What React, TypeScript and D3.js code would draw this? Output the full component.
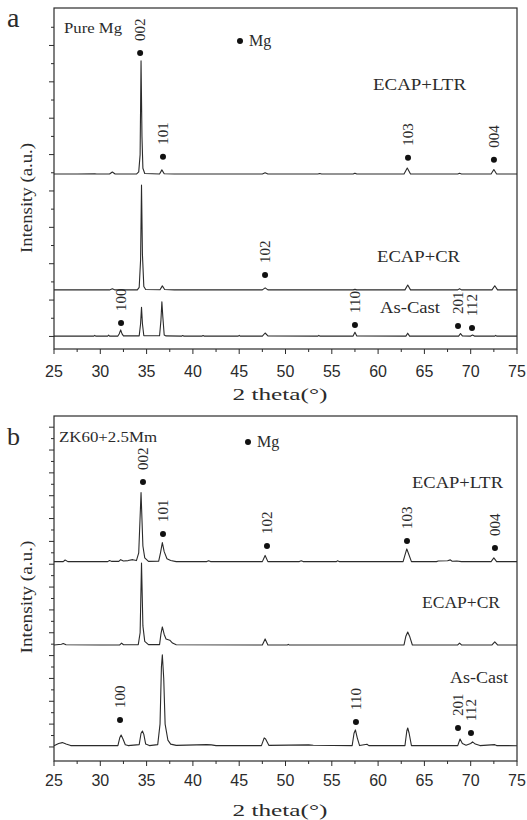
import React from 'react';
import * as d3 from 'd3';

type Pt = [number, number];

// ---------- data (2theta in degrees, intensity in a.u.) ----------
const xTickValues = [25, 30, 35, 40, 45, 50, 55, 60, 65, 70, 75];
const seriesNames = ['ECAP+LTR', 'ECAP+CR', 'As-Cast'];

// Panel a: Pure Mg
const pureLTR: Pt[] = [
  [25, 893], [27.5, 893], [29.4, 895], [29.6, 893], [31.0, 893], [31.3, 904], [31.6, 893],
  [33.9, 893], [34.15, 905], [34.3, 1000], [34.4, 1515], [34.5, 1100], [34.6, 925], [34.8, 896],
  [36.4, 893], [36.65, 916], [36.9, 895], [38, 893], [47.5, 893], [47.8, 900], [48.1, 893],
  [53.5, 893], [53.7, 896], [53.9, 893], [57.3, 893], [57.5, 898], [57.7, 893],
  [62.8, 893], [63.15, 926], [63.5, 893], [68.6, 893], [68.8, 897], [69.0, 893],
  [72.2, 893], [72.5, 918], [72.8, 893], [75, 893],
];
const pureCR: Pt[] = [
  [25, 256], [31.0, 256], [31.3, 262], [31.6, 256], [34.0, 256], [34.2, 270], [34.35, 420],
  [34.45, 832], [34.55, 450], [34.7, 275], [34.9, 258], [36.45, 257], [36.7, 278], [36.95, 258],
  [38, 256], [47.5, 256], [47.8, 267], [48.1, 256], [57.3, 256], [57.5, 259], [57.7, 256],
  [62.9, 256], [63.2, 283], [63.5, 256], [68.6, 256], [68.8, 262], [69.0, 256],
  [72.3, 256], [72.6, 279], [72.9, 256], [75, 256],
];
const pureCast: Pt[] = [
  [25, 2], [29.3, 2], [29.4, 6], [29.5, 2], [30.8, 2], [30.9, 7], [31.0, 2], [31.9, 2],
  [32.05, 15], [32.2, 36], [32.35, 14], [32.5, 3], [34.2, 3], [34.35, 70], [34.45, 160],
  [34.55, 70], [34.7, 4], [36.4, 4], [36.55, 90], [36.65, 191], [36.75, 110], [36.9, 8],
  [37.1, 3], [38.8, 2], [38.9, 5], [39.0, 2], [41.0, 2], [41.1, 5], [41.2, 2], [44.9, 2],
  [45.0, 6], [45.1, 2], [47.5, 2], [47.8, 19], [48.1, 3], [53.5, 2], [53.6, 6], [53.7, 2],
  [57.3, 2], [57.5, 23], [57.7, 3], [63.0, 2], [63.2, 18], [63.4, 2], [68.7, 2], [68.9, 16],
  [69.1, 3], [70.0, 2], [70.2, 8], [70.4, 2], [72.6, 2], [72.7, 6], [72.8, 2], [75, 2],
];
const pureLabels = [
  { hkl: '002', theta: 34.3, y: 1559 },
  { hkl: '101', theta: 36.77, y: 988 },
  { hkl: '103', theta: 63.23, y: 983 },
  { hkl: '004', theta: 72.51, y: 972 },
  { hkl: '102', theta: 47.79, y: 338 },
  { hkl: '100', theta: 32.24, y: 74 },
  { hkl: '110', theta: 57.5, y: 63 },
  { hkl: '201', theta: 68.63, y: 58 },
  { hkl: '112', theta: 70.14, y: 47 },
];

// Panel b: ZK60+2.5Mm
const zkLTR: Pt[] = [
  [25, 1623], [26.0, 1623], [26.2, 1637], [26.5, 1623], [30.8, 1623], [31.0, 1633], [31.2, 1625],
  [32.0, 1625], [32.2, 1640], [32.5, 1628], [33.0, 1632], [33.5, 1640], [33.9, 1632],
  [34.15, 1700], [34.4, 2227], [34.6, 1760], [34.8, 1655], [35.2, 1625], [36.3, 1626],
  [36.5, 1700], [36.7, 1789], [36.9, 1710], [37.2, 1648], [37.6, 1633], [38.2, 1623],
  [41.5, 1623], [41.7, 1631], [41.9, 1623], [47.5, 1623], [47.8, 1677], [48.1, 1623],
  [51.5, 1623], [51.7, 1630], [51.9, 1623], [55.5, 1623], [55.6, 1630], [55.8, 1623],
  [62.7, 1623], [62.9, 1680], [63.1, 1734], [63.3, 1690], [63.6, 1623], [66.3, 1623],
  [66.5, 1628], [67.5, 1630], [67.8, 1638], [68.0, 1626], [68.5, 1628], [69.0, 1623],
  [72.2, 1623], [72.5, 1655], [72.8, 1623], [75, 1623],
];
const zkCR: Pt[] = [
  [25, 893], [25.8, 900], [26.0, 906], [26.3, 895], [30, 893], [32.1, 893], [32.3, 910],
  [32.5, 895], [34.1, 896], [34.3, 1000], [34.45, 1611], [34.6, 1060], [34.8, 925],
  [35.2, 896], [36.4, 896], [36.55, 990], [36.7, 1051], [36.9, 985], [37.1, 945], [37.5, 935],
  [37.8, 910], [38.2, 895], [47.5, 893], [47.8, 946], [48.1, 893], [50.2, 893], [50.3, 898],
  [50.4, 893], [62.8, 893], [63.0, 970], [63.2, 1007], [63.4, 970], [63.7, 893],
  [68.6, 893], [68.8, 910], [69.0, 893], [72.3, 893], [72.6, 920], [72.9, 893], [75, 893],
];
const zkCast: Pt[] = [
  [25, 11], [25.5, 30], [25.9, 38], [26.3, 25], [26.8, 12], [31.9, 12], [32.1, 80],
  [32.25, 105], [32.45, 70], [32.7, 20], [33, 12], [34.2, 20], [34.4, 120], [34.55, 140],
  [34.7, 110], [34.9, 25], [35.3, 12], [36.2, 20], [36.45, 200], [36.6, 700], [36.7, 806],
  [36.85, 600], [37.0, 200], [37.3, 60], [37.6, 25], [38.2, 14], [41.5, 20], [42, 18],
  [42.5, 12], [47.4, 12], [47.7, 79], [47.85, 70], [48.2, 14], [52.5, 18], [53, 15],
  [57.2, 12], [57.4, 120], [57.55, 149], [57.75, 80], [58, 12], [58.8, 24], [59, 12],
  [62.9, 12], [63.1, 140], [63.2, 166], [63.35, 120], [63.6, 12], [68.6, 12], [68.85, 70],
  [69.1, 30], [69.5, 15], [70.0, 30], [70.2, 44], [70.5, 25], [71, 12], [72.6, 20],
  [72.8, 12], [75, 11],
];
const zkLabels = [
  { hkl: '002', theta: 34.61, y: 2320 },
  { hkl: '101', theta: 36.77, y: 1865 },
  { hkl: '102', theta: 48.0, y: 1760 },
  { hkl: '103', theta: 63.12, y: 1804 },
  { hkl: '004', theta: 72.62, y: 1743 },
  { hkl: '100', theta: 32.13, y: 236 },
  { hkl: '110', theta: 57.61, y: 219 },
  { hkl: '201', theta: 68.63, y: 166 },
  { hkl: '112', theta: 70.03, y: 123 },
];

// ---------- drawing ----------
const SERIF = '"Liberation Serif", "Times New Roman", serif';
const SANS = '"Liberation Sans", Arial, sans-serif';
const INK = '#2b2b2b';

type TextSpec = { text: string; x: number; y: number; size: number; len: number };

interface PanelProps {
  top: number;
  bottom: number;
  yDomain: [number, number];
  yTickMax: number;
  series: Pt[][];
  labels: { hkl: string; theta: number; y: number }[];
  texts: TextSpec[];
  legend: { x: number; y: number };
  letter: TextSpec;
  tickLabelY: number;
  titleY: number;
  yTitleCenter: number;
  yTitleLen: number;
}

const LEFT = 54;
const RIGHT = 517;

function Panel(p: PanelProps) {
  const x = d3.scaleLinear().domain([25, 75]).range([LEFT, RIGHT]);
  const y = d3.scaleLinear().domain(p.yDomain).range([p.bottom, p.top]);
  const line = d3.line<Pt>().x((d) => x(d[0])).y((d) => y(d[1]));
  const yTicks = d3.range(0, p.yTickMax + 1, 100);
  const xMinor = d3.range(27.5, 75, 5);
  return (
    <g>
      {p.series.map((s, i) => (
        <path key={i} d={line(s) || ''} fill="none" stroke={INK} strokeWidth={1.1} strokeLinejoin="round" />
      ))}
      <rect x={LEFT} y={p.top} width={RIGHT - LEFT} height={p.bottom - p.top} fill="none" stroke={INK} strokeWidth={1.2} />
      {yTicks.map((t) => (
        <line key={t} x1={LEFT} x2={LEFT - (t % 200 === 0 ? 5 : 3)} y1={y(t)} y2={y(t)} stroke={INK} strokeWidth={1} />
      ))}
      {xTickValues.map((t) => (
        <g key={t}>
          <line x1={x(t)} x2={x(t)} y1={p.bottom} y2={p.bottom + 5} stroke={INK} strokeWidth={1} />
          <text x={x(t)} y={p.tickLabelY} textAnchor="middle" fontFamily={SANS} fontSize={16} fill={INK}>
            {t}
          </text>
        </g>
      ))}
      {xMinor.map((t) => (
        <line key={t} x1={x(t)} x2={x(t)} y1={p.bottom} y2={p.bottom + 3} stroke={INK} strokeWidth={1} />
      ))}
      {p.labels.map((l) => (
        <g key={l.hkl}>
          <circle cx={x(l.theta)} cy={y(l.y)} r={3} fill="#111" />
          <text
            transform={`translate(${x(l.theta)},${y(l.y) - 12}) rotate(-90)`}
            dy="0.35em"
            fontFamily={SERIF}
            fontSize={15}
            fill={INK}
          >
            {l.hkl}
          </text>
        </g>
      ))}
      {p.texts.map((t) => (
        <text key={t.text} x={t.x} y={t.y} fontFamily={SERIF} fontSize={t.size} fill={INK} textLength={t.len} lengthAdjust="spacingAndGlyphs">
          {t.text}
        </text>
      ))}
      <circle cx={p.legend.x} cy={p.legend.y} r={3} fill="#111" />
      <text x={p.legend.x + 9} y={p.legend.y + 5} fontFamily={SERIF} fontSize={16} fill={INK}>Mg</text>
      <text x={p.letter.x} y={p.letter.y} fontFamily={SERIF} fontSize={p.letter.size} fill={INK}>{p.letter.text}</text>
      <text x={280} y={p.titleY} textAnchor="middle" fontFamily={SERIF} fontSize={17} fill={INK} textLength={95} lengthAdjust="spacingAndGlyphs">
        2 theta(°)
      </text>
      <text
        transform={`translate(32,${p.yTitleCenter}) rotate(-90)`}
        textAnchor="middle"
        fontFamily={SERIF}
        fontSize={17}
        fill={INK}
        textLength={p.yTitleLen}
        lengthAdjust="spacingAndGlyphs"
      >
        Intensity (a.u.)
      </text>
    </g>
  );
}

export default function App() {
  return (
    <svg
      width={527}
      height={820}
      viewBox="0 0 527 820"
      style={{ position: 'absolute', left: 0, top: 0, background: '#fff' }}
    >
      <rect width={527} height={820} fill="#fff" />
      <Panel
        top={8}
        bottom={349}
        yDomain={[-69, 1806]}
        yTickMax={1700}
        series={[pureLTR, pureCR, pureCast]}
        labels={pureLabels}
        texts={[
          { text: 'Pure Mg', x: 64, y: 33, size: 14, len: 58 },
          { text: seriesNames[0], x: 373, y: 90, size: 16, len: 93 },
          { text: seriesNames[1], x: 377, y: 262, size: 16, len: 83 },
          { text: seriesNames[2], x: 380, y: 313, size: 16, len: 60 },
        ]}
        legend={{ x: 240, y: 41 }}
        letter={{ text: 'a', x: 7, y: 27, size: 28, len: 0 }}
        tickLabelY={377}
        titleY={400}
        yTitleCenter={198}
        yTitleLen={110}
      />
      <Panel
        top={416}
        bottom={761}
        yDomain={[-123, 2898]}
        yTickMax={2800}
        series={[zkLTR, zkCR, zkCast]}
        labels={zkLabels}
        texts={[
          { text: 'ZK60+2.5Mm', x: 59, y: 442, size: 15, len: 98 },
          { text: seriesNames[0], x: 412, y: 488, size: 16, len: 91 },
          { text: seriesNames[1], x: 422, y: 608, size: 16, len: 78 },
          { text: seriesNames[2], x: 450, y: 683, size: 16, len: 58 },
        ]}
        legend={{ x: 248, y: 442 }}
        letter={{ text: 'b', x: 7, y: 445, size: 26, len: 0 }}
        tickLabelY={786}
        titleY={816}
        yTitleCenter={597}
        yTitleLen={113}
      />
    </svg>
  );
}
